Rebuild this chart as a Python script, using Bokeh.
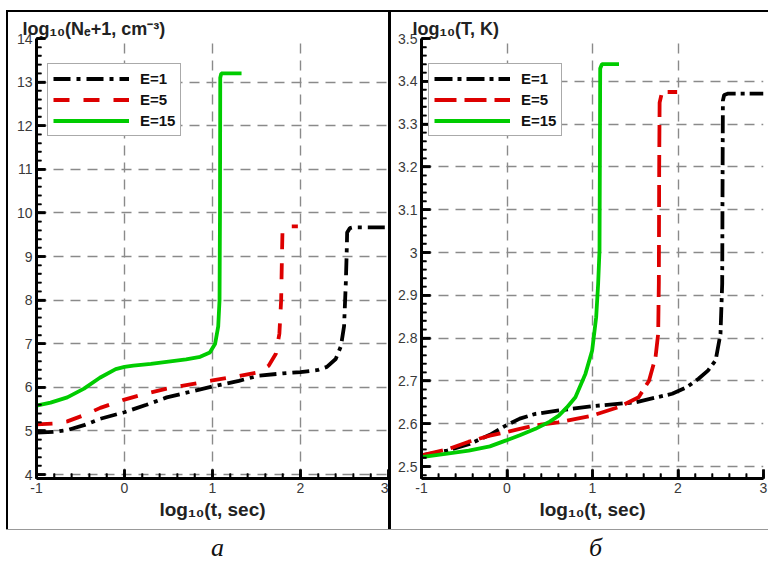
import math
from bokeh.plotting import figure
from bokeh.models import (FixedTicker, CustomJSTickFormatter, Legend, LegendItem,
                          Range1d, Div, Spacer)
from bokeh.layouts import column, row
from bokeh.embed import file_html
from bokeh.resources import INLINE

# ---------------- data ----------------
# Panel a: log10(Ne+1, cm^-3) vs log10(t, sec)
ne_e1_t = [-1.0, -0.8, -0.65, -0.45, -0.275, 0.0, 0.25, 0.48, 0.75, 1.0, 1.3, 1.53, 1.8, 2.0,
           2.2, 2.3, 2.4, 2.46, 2.495, 2.515, 2.525, 2.53, 2.56, 2.6, 3.0]
ne_e1_y = [4.96, 4.98, 5.02, 5.14, 5.28, 5.43, 5.6, 5.77, 5.9, 6.02, 6.15, 6.27, 6.32, 6.35,
           6.4, 6.47, 6.65, 6.95, 7.4, 8.4, 9.1, 9.55, 9.65, 9.67, 9.67]
ne_e5_t = [-1.0, -0.8, -0.65, -0.45, -0.275, 0.0, 0.25, 0.48, 0.75, 1.0, 1.3, 1.53, 1.64, 1.72,
           1.76, 1.78, 1.79, 1.795, 1.82, 1.85, 1.97]
ne_e5_y = [5.15, 5.17, 5.22, 5.37, 5.53, 5.72, 5.86, 5.97, 6.07, 6.16, 6.26, 6.35, 6.5, 6.77,
           7.23, 8.0, 9.1, 9.55, 9.68, 9.69, 9.69]
ne_e15_t = [-1.0, -0.84, -0.65, -0.46, -0.28, -0.1, 0.0, 0.1, 0.3, 0.5, 0.7, 0.86, 0.97, 1.03,
            1.065, 1.08, 1.085, 1.088, 1.1, 1.33]
ne_e15_y = [5.58, 5.65, 5.77, 5.97, 6.22, 6.42, 6.47, 6.5, 6.54, 6.59, 6.64, 6.7, 6.8, 7.0,
            7.4, 8.0, 10.0, 13.1, 13.2, 13.2]

# Panel б: log10(T, K) vs log10(t, sec)
t_e1_t = [-1.0, -0.7, -0.447, -0.2, -0.01, 0.15, 0.333, 0.606, 1.0, 1.503, 1.932, 2.1, 2.24,
          2.35, 2.44, 2.497, 2.517, 2.52, 2.525, 2.54, 2.58, 3.0]
t_e1_y = [2.526, 2.537, 2.552, 2.574, 2.596, 2.612, 2.623, 2.631, 2.641, 2.65, 2.67, 2.685,
          2.705, 2.724, 2.748, 2.81, 2.927, 3.1, 3.355, 3.368, 3.371, 3.371]
t_e5_t = [-1.0, -0.7, -0.447, -0.2, -0.01, 0.15, 0.333, 0.6, 1.0, 1.31, 1.54, 1.66, 1.737,
          1.768, 1.776, 1.78, 1.785, 1.81, 1.85, 1.99]
t_e5_y = [2.526, 2.54, 2.558, 2.572, 2.58, 2.588, 2.596, 2.603, 2.619, 2.639, 2.662, 2.70,
          2.755, 2.81, 2.93, 3.2, 3.35, 3.372, 3.375, 3.375]
t_e15_t = [-1.0, -0.7, -0.447, -0.2, -0.01, 0.15, 0.333, 0.5, 0.606, 0.7, 0.8, 0.918, 0.996,
           1.043, 1.066, 1.082, 1.086, 1.09, 1.11, 1.31]
t_e15_y = [2.522, 2.53, 2.537, 2.547, 2.561, 2.573, 2.588, 2.605, 2.619, 2.638, 2.662, 2.717,
           2.771, 2.849, 2.927, 3.005, 3.2, 3.43, 3.44, 3.44]

series_labels = ["E=1", "E=5", "E=15"]
x_major = [-1, 0, 1, 2, 3]
x_minor = [round(-1 + 0.2 * i, 1) for i in range(21)]
ne_major = list(range(4, 15))
ne_minor = [round(4.0 + 0.2 * i, 1) for i in range(51)]
temp_major = [round(2.5 + 0.1 * i, 1) for i in range(11)]
temp_minor = [round(2.48 + 0.02 * i, 2) for i in range(52)]

FONT = "Liberation Sans"
fmt = CustomJSTickFormatter(code="return String(Math.round(tick*100)/100);")


def make_panel(title, xs, ys, y_rng, y_major, y_minor, dashes, legend_loc,
               width, bl, br, title_offset):
    p = figure(width=width, height=517, x_range=Range1d(-1, 3), y_range=Range1d(*y_rng),
               output_backend="svg", toolbar_location=None,
               min_border_left=bl, min_border_right=br, min_border_top=26,
               min_border_bottom=51, title=title)
    p.outline_line_color = None
    p.background_fill_color = "white"
    p.border_fill_color = "white"
    p.title.text_font = FONT
    p.title.text_font_size = "18px"
    p.title.text_font_style = "bold"
    p.title.text_color = "#222222"
    p.title.align = "left"
    p.title.offset = title_offset
    p.title.standoff = 0

    xa, ya = p.xaxis[0], p.yaxis[0]
    xa.ticker = FixedTicker(ticks=x_major, minor_ticks=x_minor)
    ya.ticker = FixedTicker(ticks=y_major, minor_ticks=y_minor)
    for ax in (xa, ya):
        ax.formatter = fmt
        ax.axis_line_width = 3
        ax.axis_line_color = "black"
        ax.major_tick_in = 9
        ax.major_tick_out = 0
        ax.minor_tick_in = 5
        ax.minor_tick_out = 0
        ax.major_tick_line_width = 2.5
        ax.minor_tick_line_width = 1.6
        ax.major_tick_line_color = "black"
        ax.minor_tick_line_color = "black"
        ax.major_label_text_font = FONT
        ax.major_label_text_font_size = "14px"
        ax.major_label_text_color = "#3a3a3a"
        ax.major_label_standoff = 4
    xa.axis_label = "log₁₀(t, sec)"
    xa.axis_label_text_font = FONT
    xa.axis_label_text_font_size = "19px"
    xa.axis_label_text_font_style = "bold"
    xa.axis_label_text_color = "#222222"
    xa.axis_label_standoff = 3

    p.grid.grid_line_color = "#8a8a8a"
    p.grid.grid_line_width = 1.4
    p.grid.grid_line_dash = "10 7"

    colors = ["black", "#dd0000", "#00cc00"]
    rs = []
    for x, y, c, d in zip(xs, ys, colors, dashes):
        rs.append(p.line(x, y, line_color=c, line_width=3.8, line_dash=d))

    # inward tick marks, drawn on top of everything as short screen-length rays
    x0, y0 = -1, y_rng[0]
    p.ray(x=x_major, y=[y0] * len(x_major), length=9, length_units="screen",
          angle=math.pi / 2, line_color="black", line_width=2.5, level="overlay")
    p.ray(x=x_minor, y=[y0] * len(x_minor), length=5, length_units="screen",
          angle=math.pi / 2, line_color="black", line_width=1.6, level="overlay")
    p.ray(x=[x0] * len(y_major), y=y_major, length=9, length_units="screen",
          angle=0, line_color="black", line_width=2.5, level="overlay")
    p.ray(x=[x0] * len(y_minor), y=y_minor, length=5, length_units="screen",
          angle=0, line_color="black", line_width=1.6, level="overlay")

    items = [LegendItem(label=l, renderers=[r]) for l, r in zip(series_labels, rs)]
    leg = Legend(items=items, location=legend_loc)
    leg.glyph_width = 76
    leg.glyph_height = 19
    leg.label_standoff = 11
    leg.label_text_font = FONT
    leg.label_text_font_size = "15px"
    leg.label_text_font_style = "bold"
    leg.label_text_color = "#111111"
    leg.padding = 5
    leg.spacing = 2
    leg.margin = 0
    leg.border_line_color = "#555555"
    leg.border_line_width = 1.5
    leg.background_fill_alpha = 1.0
    p.add_layout(leg, "center")
    return p


p1 = make_panel("log₁₀(Nₑ+1, cm⁻³)", [ne_e1_t, ne_e5_t, ne_e15_t], [ne_e1_y, ne_e5_y, ne_e15_y],
                (3.91, 14), ne_major, ne_minor, ["17 6 4 6", "16 14", "solid"], (11, 342),
                380, 28, 0, -14)
p2 = make_panel("log₁₀(T, K)", [t_e1_t, t_e5_t, t_e15_t], [t_e1_y, t_e5_y, t_e15_y],
                (2.472, 3.5), temp_major, temp_minor, ["18 5 4 5", "22 8", "solid"], (7, 342),
                377, 30, 5, -9)

top_line = Spacer(width=762, height=2, styles={"background-color": "black"})
left_line = Spacer(width=2, height=517, styles={"background-color": "black"})
mid_line = Spacer(width=3, height=517, styles={"background-color": "black"})
bottom_line = Spacer(width=762, height=1, styles={"background-color": "#999999"})

caption = Div(width=762, height=35, margin=0, text=(
    "<div style='position:relative;width:762px;height:35px;font-family:\"Liberation Serif\";"
    "font-style:italic;font-size:26px;color:#111;'>"
    "<span style='position:absolute;left:205px;top:-1px;'>а</span>"
    "<span style='position:absolute;left:583px;top:-1px;'>б</span></div>"))

panels = column(Spacer(height=10), top_line, row(left_line, p1, mid_line, p2), bottom_line, caption)
layout = row(Spacer(width=6), panels)

open("out.html", "w").write(file_html(layout, INLINE))
